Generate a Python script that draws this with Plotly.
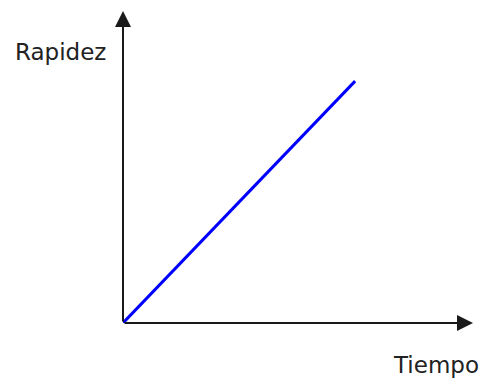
import plotly.graph_objects as go

# Speed grows linearly with time
tiempo = [0, 10]
rapidez = [0, 10]

x_max = 15.08
y_max = 12.9

axis_color = "#1a1a1a"
label_font = dict(family="DejaVu Sans", size=23, color="#222")

fig = go.Figure()
fig.add_trace(go.Scatter(
    x=tiempo, y=rapidez, mode="lines",
    line=dict(color="#0000ff", width=3),
    cliponaxis=False, hoverinfo="skip", showlegend=False,
))

# Axes drawn as arrows from the origin
for tip_x, tip_y in [(x_max, 0), (0, y_max)]:
    fig.add_annotation(
        x=tip_x, y=tip_y, ax=0, ay=0,
        xref="x", yref="y", axref="x", ayref="y",
        showarrow=True, arrowhead=2, arrowsize=1.6, arrowwidth=2,
        arrowcolor=axis_color, text="", standoff=0,
    )

fig.add_annotation(text="Rapidez", xref="paper", yref="paper",
                   x=-0.18, y=0.869, xanchor="center", yanchor="middle",
                   showarrow=False, font=label_font)
fig.add_annotation(text="Tiempo", xref="paper", yref="paper",
                   x=0.893, y=-0.135, xanchor="center", yanchor="middle",
                   showarrow=False, font=label_font)

fig.update_xaxes(range=[0, x_max], visible=False)
fig.update_yaxes(range=[0, y_max], visible=False)
fig.update_layout(
    width=482, height=378,
    margin=dict(l=123, r=9, t=11, b=55),
    paper_bgcolor="white", plot_bgcolor="white",
)
fig.write_html("out.html")
